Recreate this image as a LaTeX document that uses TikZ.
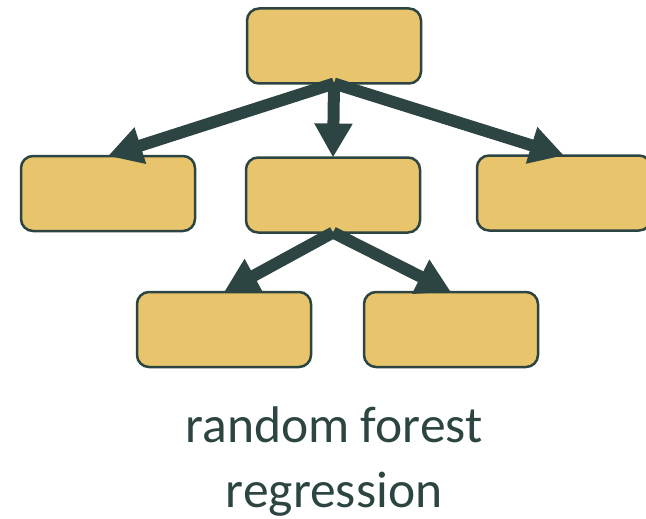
\documentclass[tikz,border=0pt]{standalone}
\usepackage{fontspec}
\setmainfont{Carlito}
\usepackage{tikz}
\usetikzlibrary{arrows.meta}

\begin{document}
\begin{tikzpicture}[x=1pt,y=-1pt,line cap=rect]
						\definecolor{custcol_e8_c4_6c}{RGB}{232, 196, 108}
						\definecolor{custcol_2d_45_42}{RGB}{45, 69, 66}
						\tikzset{leaf/.style={draw=custcol_2d_45_42, line width=2.5pt, fill=custcol_e8_c4_6c, rounded corners=12pt, minimum width=174pt, minimum height=75pt, inner sep=0pt, outer sep=0pt},
							split/.style={draw=custcol_2d_45_42, line width=12pt, line cap=butt, -{Triangle[width=36pt,length=34pt]}},
							caption/.style={inner sep=0, outer sep=0, custcol_2d_45_42, anchor=base, font=\fontsize{51.5pt}{62pt}\selectfont}}
						\clip (0.0,0.0) rectangle (646.0,519.0);
						\node[leaf] (root) at (334.0,46.0) {};
						\node[leaf] (midL) at (108.0,193.5) {};
						\node[leaf] (midC) at (333.0,195.0) {};
						\node[leaf] (midR) at (564.0,193.0) {};
						\node[leaf] (botL) at (224.0,329.5) {};
						\node[leaf] (botR) at (451.0,329.5) {};
						\draw [split] (root.south) -- (midL.north);
						\draw [split] (root.south) -- (midC.north);
						\draw [split] (root.south) -- (midR.north);
						\draw [split] (midC.south) -- (botL.north);
						\draw [split] (midC.south) -- (botR.north);
						\node[caption] (line1) at (334.0,442.0) {random forest};
						\node[caption] (line2) at (334.0,507.0) {regression};
					\end{tikzpicture}
\end{document}
